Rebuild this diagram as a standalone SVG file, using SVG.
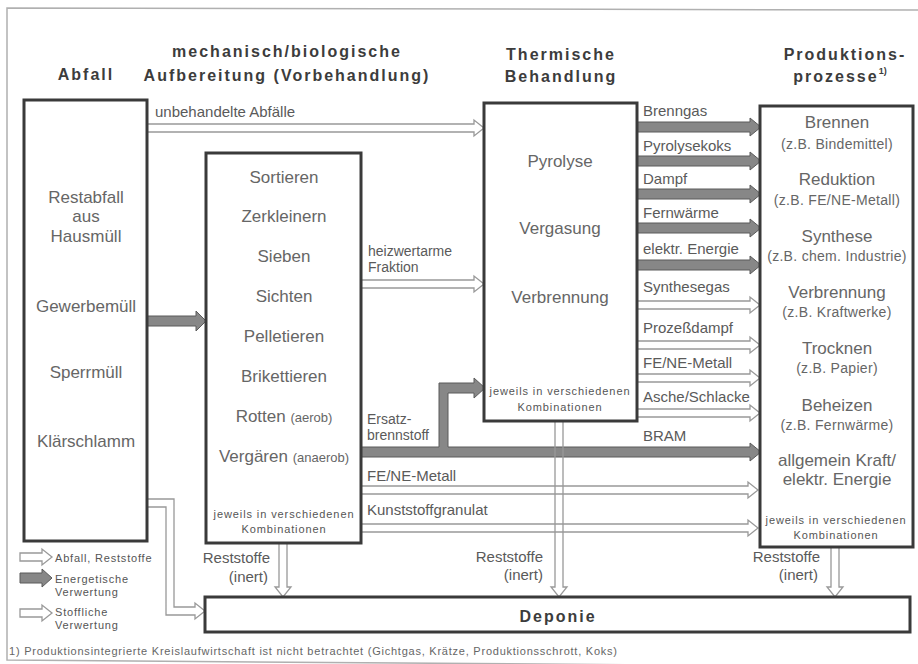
<svg xmlns="http://www.w3.org/2000/svg" width="918" height="664" viewBox="0 0 918 664">
<style>
text{font-family:"Liberation Sans",Arial,sans-serif;fill:#666}
.hdr{font-size:16px;font-weight:bold;fill:#3c3c3c;letter-spacing:2px;text-anchor:middle}
.box{fill:#fff;stroke:#3a3a3a;stroke-width:3}
.m{font-size:17px;text-anchor:middle}
.s{font-size:14px;text-anchor:middle;letter-spacing:0.3px}
.sm{font-size:13px}
.k{font-size:11px;text-anchor:middle;letter-spacing:0.9px;fill:#555}
.lb{font-size:15px;fill:#5a5a5a}
.lb2{font-size:14px;fill:#5a5a5a}
.lg{font-size:11px;letter-spacing:0.8px;fill:#555}
.ho{fill:#fff;stroke:#999;stroke-width:1.3}
.hn{fill:none;stroke:#999;stroke-width:1.3}
.dk{fill:#878787;stroke:#5a5a5a;stroke-width:1}
.fr{fill:none;stroke:#b0b0b0;stroke-width:1.5}
</style>
<rect width="918" height="664" fill="#fff"/>
<g id="frame">
<path class="fr" d="M918,10 L7,8 L7,660 L918,667"/>
</g>
<g id="headers">
<text class="hdr" x="86" y="80">Abfall</text>
<text class="hdr" x="287" y="57">mechanisch/biologische</text>
<text class="hdr" x="287" y="81">Aufbereitung (Vorbehandlung)</text>
<text class="hdr" x="561" y="60">Thermische</text>
<text class="hdr" x="561" y="82">Behandlung</text>
<text class="hdr" x="845" y="60">Produktions-</text>
<text class="hdr" x="840" y="82">prozesse<tspan font-size="9" dy="-8" letter-spacing="0">1)</tspan></text>
</g>
<g id="connectors">
<path class="ho" d="M147,124 H474 V120 L484,128 L474,136 V132 H147"/>
<path class="ho" d="M361,280 H474 V276 L484,284 L474,292 V288 H361"/>
<path class="dk" d="M147,316 H196 V311 L206,321 L196,331 V326 H147 Z"/>
<path class="dk" d="M637,122 H750 V118 L761,127 L750,136 V132 H637 Z"/>
<path class="dk" d="M637,156 H750 V152 L761,161 L750,170 V166 H637 Z"/>
<path class="dk" d="M637,189 H750 V185 L761,194 L750,203 V199 H637 Z"/>
<path class="dk" d="M637,223 H750 V219 L761,228 L750,237 V233 H637 Z"/>
<path class="dk" d="M637,260 H750 V256 L761,265 L750,274 V270 H637 Z"/>
<path class="ho" d="M637,301 H750 V297 L760,305 L750,313 V309 H637"/>
<path class="ho" d="M637,341 H750 V337 L760,345 L750,353 V349 H637"/>
<path class="ho" d="M637,374 H750 V370 L760,378 L750,386 V382 H637"/>
<path class="ho" d="M637,409 H750 V405 L760,413 L750,421 V417 H637"/>
<path class="dk" d="M361,447 H439 V383 H474 V378 L485,388 L474,398 V393 H448 V447 H750 V443 L761,452 L750,461 V457 H361 Z"/>
<path class="ho" d="M361,486 H748 V482 L758,490 L748,498 V494 H361"/>
<path class="ho" d="M361,524 H748 V520 L758,528 L748,536 V532 H361"/>
<path class="ho" d="M147,499 H174 V607 H195 V603 L205,611 L195,619 V615 H166 V507 H147"/>
<path class="ho" d="M279,543 V587 H275 L283,597 L291,587 H287 V543"/>
<path class="hn" d="M555,421 V587 H551 L559,597 L567,587 H563 V421"/>
<path class="ho" d="M831,547 V587 H827 L835,597 L843,587 H839 V547"/>
<text class="lb" x="155" y="117">unbehandelte Abfälle</text>
<text class="lb2" x="368" y="256">heizwertarme</text>
<text class="lb2" x="368" y="272">Fraktion</text>
<text class="lb" x="643" y="116">Brenngas</text>
<text class="lb" x="643" y="151">Pyrolysekoks</text>
<text class="lb" x="643" y="184">Dampf</text>
<text class="lb" x="643" y="218">Fernwärme</text>
<text class="lb" x="643" y="254">elektr. Energie</text>
<text class="lb" x="643" y="292">Synthesegas</text>
<text class="lb" x="643" y="333">Prozeßdampf</text>
<text class="lb" x="643" y="368">FE/NE-Metall</text>
<text class="lb" x="643" y="402">Asche/Schlacke</text>
<text class="lb" x="643" y="441">BRAM</text>
<text class="lb2" x="367" y="424">Ersatz-</text>
<text class="lb2" x="367" y="440">brennstoff</text>
<text class="lb" x="367" y="481">FE/NE-Metall</text>
<text class="lb" x="367" y="515">Kunststoffgranulat</text>
<text class="lb" x="270" y="563" text-anchor="end">Reststoffe</text>
<text class="lb" x="268" y="582" text-anchor="end">(inert)</text>
<text class="lb" x="543" y="562" text-anchor="end">Reststoffe</text>
<text class="lb" x="543" y="580" text-anchor="end">(inert)</text>
<text class="lb" x="820" y="562" text-anchor="end">Reststoffe</text>
<text class="lb" x="818" y="580" text-anchor="end">(inert)</text>
</g>
<g id="abfall">
<rect class="box" x="24" y="100" width="123" height="441"/>
<text class="m" x="86" y="203">Restabfall</text>
<text class="m" x="86" y="222">aus</text>
<text class="m" x="86" y="242">Hausmüll</text>
<text class="m" x="86" y="312">Gewerbemüll</text>
<text class="m" x="86" y="378">Sperrmüll</text>
<text class="m" x="86" y="447">Klärschlamm</text>
</g>
<g id="aufbereitung">
<rect class="box" x="206" y="153" width="155" height="390"/>
<text class="m" x="284" y="183">Sortieren</text>
<text class="m" x="284" y="222">Zerkleinern</text>
<text class="m" x="284" y="262">Sieben</text>
<text class="m" x="284" y="302">Sichten</text>
<text class="m" x="284" y="342">Pelletieren</text>
<text class="m" x="284" y="382">Brikettieren</text>
<text class="m" x="284" y="422">Rotten <tspan class="sm">(aerob)</tspan></text>
<text class="m" x="284" y="462">Vergären <tspan class="sm">(anaerob)</tspan></text>
<text class="k" x="284" y="518">jeweils in verschiedenen</text>
<text class="k" x="284" y="533">Kombinationen</text>
</g>
<g id="thermisch">
<rect class="box" x="484" y="103" width="153" height="318"/>
<text class="m" x="560" y="167">Pyrolyse</text>
<text class="m" x="560" y="234">Vergasung</text>
<text class="m" x="560" y="303">Verbrennung</text>
<text class="k" x="560" y="395">jeweils in verschiedenen</text>
<text class="k" x="560" y="411">Kombinationen</text>
</g>
<g id="produktion">
<rect class="box" x="760" y="106" width="153" height="441"/>
<text class="m" x="837" y="128">Brennen</text>
<text class="s" x="837" y="149">(z.B. Bindemittel)</text>
<text class="m" x="837" y="185">Reduktion</text>
<text class="s" x="837" y="205">(z.B. FE/NE-Metall)</text>
<text class="m" x="837" y="242">Synthese</text>
<text class="s" x="837" y="261">(z.B. chem. Industrie)</text>
<text class="m" x="837" y="298">Verbrennung</text>
<text class="s" x="837" y="317">(z.B. Kraftwerke)</text>
<text class="m" x="837" y="354">Trocknen</text>
<text class="s" x="837" y="373">(z.B. Papier)</text>
<text class="m" x="837" y="411">Beheizen</text>
<text class="s" x="837" y="430">(z.B. Fernwärme)</text>
<text class="m" x="837" y="466">allgemein Kraft/</text>
<text class="m" x="837" y="485">elektr. Energie</text>
<text class="k" x="836" y="524">jeweils in verschiedenen</text>
<text class="k" x="836" y="539">Kombinationen</text>
</g>
<g id="deponie">
<rect class="box" x="205" y="597" width="705" height="35"/>
<text class="hdr" x="558" y="622">Deponie</text>
</g>
<g id="legend">
<path class="ho" d="M20,553 H42 V549 L52,557 L42,565 V561 H20 Z"/>
<path class="dk" d="M20,573 H42 V569 L52,578 L42,587 V583 H20 Z"/>
<path class="ho" d="M20,609 H42 V605 L52,613 L42,621 V617 H20 Z"/>
<text class="lg" x="55" y="562">Abfall, Reststoffe</text>
<text class="lg" x="55" y="583">Energetische</text>
<text class="lg" x="55" y="596">Verwertung</text>
<text class="lg" x="55" y="616">Stoffliche</text>
<text class="lg" x="55" y="629">Verwertung</text>
</g>
<g id="footnote">
<text x="9" y="655" font-size="11" fill="#555" textLength="608" lengthAdjust="spacing">1) Produktionsintegrierte Kreislaufwirtschaft ist nicht betrachtet (Gichtgas, Krätze, Produktionsschrott, Koks)</text>
</g>
</svg>
